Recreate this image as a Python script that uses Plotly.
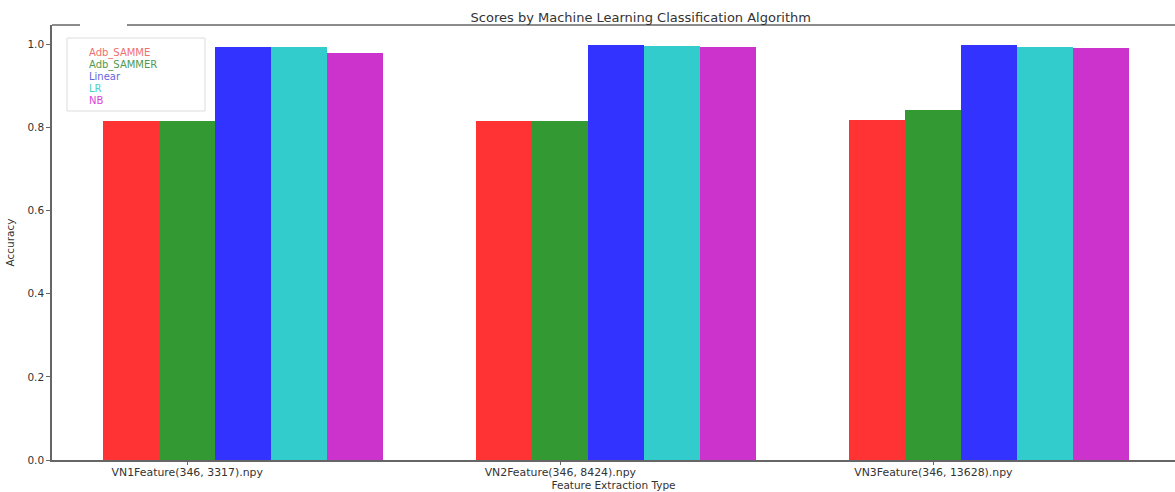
import plotly.graph_objects as go

categories = ["VN1Feature(346, 3317).npy", "VN2Feature(346, 8424).npy", "VN3Feature(346, 13628).npy"]
series_names = ["Adb_SAMME", "Adb_SAMMER", "Linear", "LR", "NB"]
adb_samme = [0.814, 0.814, 0.817]
adb_sammer = [0.814, 0.814, 0.841]
linear = [0.993, 0.998, 0.997]
lr = [0.993, 0.995, 0.994]
nb = [0.979, 0.992, 0.990]
y_ticks = [0.0, 0.2, 0.4, 0.6, 0.8, 1.0]

series_values = [adb_samme, adb_sammer, linear, lr, nb]
bar_colors = ["#FF3333", "#339933", "#3333FF", "#33CCCC", "#CC33CC"]
legend_text_colors = ["#F07070", "#4E9A4E", "#6464DC", "#4CCFC4", "#DD44DD"]

W, H = 1175, 492
L, T, B = 52, 25, 460
bar_width = 0.15
index = list(range(len(categories)))

def px_x(px):
    return (px - L) / (W - L)

def px_y(py):
    return (B - py) / (B - T)

fig = go.Figure()
for k, (name, vals) in enumerate(zip(series_names, series_values)):
    fig.add_trace(go.Bar(
        x=[i + k * bar_width for i in index],
        y=vals,
        width=bar_width,
        name=name,
        marker=dict(color=bar_colors[k], line=dict(width=0)),
        showlegend=False,
    ))

# Legend box and coloured labels
shapes = [
    dict(type="rect", xref="paper", yref="paper",
         x0=px_x(67), x1=px_x(205), y0=px_y(111), y1=px_y(38),
         line=dict(color="#DDDDDD", width=1), fillcolor="rgba(255,255,255,0.8)", layer="above"),
    # top spine with gap
    dict(type="line", xref="paper", yref="paper", x0=0, x1=px_x(80), y0=1, y1=1,
         line=dict(color="#666666", width=1.5)),
    dict(type="line", xref="paper", yref="paper", x0=px_x(127), x1=1, y0=1, y1=1,
         line=dict(color="#666666", width=1.5)),
]
annotations = []
for k, name in enumerate(series_names):
    annotations.append(dict(
        x=px_x(87), y=px_y(53 + k * 11.8), xref="paper", yref="paper",
        text=name, showarrow=False, xanchor="left", yanchor="middle",
        font=dict(family="DejaVu Sans", size=10, color=legend_text_colors[k]),
    ))

fig.update_layout(
    width=W, height=H,
    margin=dict(l=L, r=0, t=T, b=H - B),
    paper_bgcolor="white", plot_bgcolor="white",
    bargap=0, barmode="overlay",
    font=dict(family="DejaVu Sans", color="#333333"),
    title=dict(text="Scores by Machine Learning Classification Algorithm",
               x=616 / W, xref="paper", xanchor="center", y=1 - 17 / H, yanchor="middle",
               font=dict(size=13, color="#333333")),
    shapes=shapes,
    annotations=annotations,
    xaxis=dict(
        range=[-0.2125, (W - 131.5) / 373.0],
        tickvals=[i + bar_width for i in index],
        ticktext=categories,
        ticks="outside", ticklen=3, tickcolor="#666666",
        ticklabelstandoff=-2,
        showline=True, linecolor="#666666", linewidth=1.5,
        showgrid=False, zeroline=False,
        tickfont=dict(size=10.9, color="#333333"),
        title=dict(text="Feature Extraction Type", font=dict(size=10.5, color="#333333"), standoff=3),
    ),
    yaxis=dict(
        range=[0, 1.046],
        tickvals=y_ticks,
        tickformat=".1f",
        ticks="outside", ticklen=4, tickcolor="#666666",
        showline=True, linecolor="#666666", linewidth=1.5,
        showgrid=False, zeroline=False,
        tickfont=dict(size=10.5, color="#333333"),
        title=dict(text="Accuracy", font=dict(size=10.5, color="#333333"), standoff=11),
    ),
)

fig.write_html("out.html")
